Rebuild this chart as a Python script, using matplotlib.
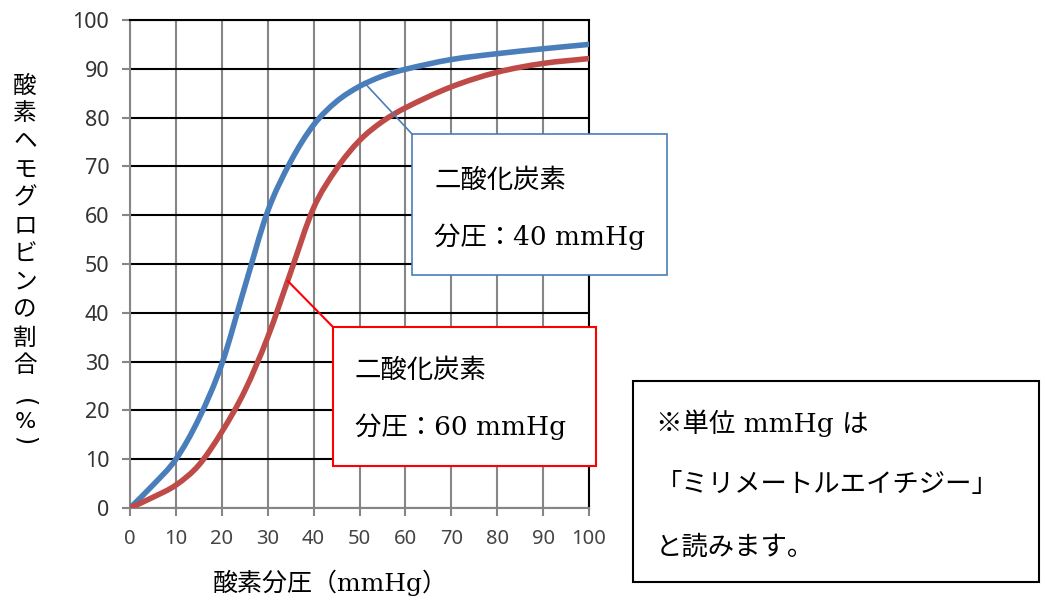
import matplotlib
matplotlib.use('Agg')
import matplotlib.pyplot as plt
from matplotlib.patches import Rectangle, PathPatch
from matplotlib.lines import Line2D
from matplotlib.path import Path

# values
pressure = [0, 5, 10, 15, 20, 25, 30, 35, 40, 45, 50, 55, 60, 70, 80, 90, 100]
sat_co2_40 = [0, 4.7, 10, 18.3, 29.5, 45.3, 60.8, 71, 78.5, 83.3, 86.4, 88.5, 89.9, 91.9, 93.1, 94.1, 95]
sat_co2_60 = [0, 2.2, 4.7, 8.8, 15.6, 24, 35, 48.3, 61.5, 69.5, 75.3, 79.2, 82, 86.3, 89.3, 91.1, 92.1]
ticks = list(range(0, 101, 10))

label_blue = ['二酸化炭素', '分圧：40 mmHg']
label_red = ['二酸化炭素', '分圧：60 mmHg']
note_lines = ['※単位 mmHg は', '「ミリメートルエイチジー」', 'と読みます。']
ylabel_chars = list('酸素ヘモグロビンの割合')
xlabel = '酸素分圧（mmHg）'

W, H = 1045, 600
def fx(px):
    return px / W
def fy(py):
    return 1 - py / H

serif = ['DejaVu Serif', 'Noto Sans CJK JP']
cjk = ['Noto Sans CJK JP', 'DejaVu Sans']


def smooth_line(xs, ys):
    # smoothed line like the spreadsheet's: cubic Hermite segments as a bezier path
    n = len(xs)
    slopes = []
    for i in range(n):
        a, b = max(i - 1, 0), min(i + 1, n - 1)
        slopes.append((ys[b] - ys[a]) / (xs[b] - xs[a]))
    verts = [(xs[0], ys[0])]
    codes = [Path.MOVETO]
    for i in range(n - 1):
        h = xs[i + 1] - xs[i]
        verts += [(xs[i] + h / 3, ys[i] + slopes[i] * h / 3),
                  (xs[i + 1] - h / 3, ys[i + 1] - slopes[i + 1] * h / 3),
                  (xs[i + 1], ys[i + 1])]
        codes += [Path.CURVE4] * 3
    return Path(verts, codes)


fig = plt.figure(figsize=(10.45, 6.0), dpi=100)
ax = fig.add_axes([fx(130), fy(508), (589 - 130) / W, (508 - 20) / H])

ax.add_patch(PathPatch(smooth_line(pressure, sat_co2_40), facecolor='none',
                       edgecolor='#4a7ebb', lw=4, zorder=3, capstyle='round'))
ax.add_patch(PathPatch(smooth_line(pressure, sat_co2_60), facecolor='none',
                       edgecolor='#be4b48', lw=4, zorder=3, capstyle='round'))

ax.set_xlim(0, 100)
ax.set_ylim(0, 100)
ax.set_xticks(ticks)
ax.set_yticks(ticks)
ax.grid(axis='y', color='black', lw=1.5)
ax.grid(axis='x', color='#868686', lw=1.5)
ax.set_axisbelow(True)
for s in ['top', 'right']:
    ax.spines[s].set_color('black')
    ax.spines[s].set_linewidth(1.5)
for s in ['left', 'bottom']:
    ax.spines[s].set_color('#868686')
    ax.spines[s].set_linewidth(1.5)
ax.tick_params(length=6, width=1.5, color='#868686', pad=9)
ax.tick_params(axis='y', labelsize=15.5, labelcolor='#333333')
ax.tick_params(axis='x', labelsize=14.5, labelcolor='#444444')
for lab in ax.get_xticklabels() + ax.get_yticklabels():
    lab.set_family('Noto Sans')

# axis titles
fig.text(fx(330), fy(583), xlabel, family=serif, fontsize=18, ha='center', va='center')
for i, ch in enumerate(ylabel_chars):
    fig.text(fx(25), fy(86 + 28 * i), ch, family=cjk, fontsize=17, ha='center', va='center')
fig.text(fx(25), fy(403), '(', family='DejaVu Sans', fontsize=17, ha='center', va='center',
         rotation=-90, rotation_mode='anchor')
fig.text(fx(25), fy(422), '%', family='DejaVu Sans', fontsize=16, ha='center', va='center')
fig.text(fx(25), fy(441), ')', family='DejaVu Sans', fontsize=17, ha='center', va='center',
         rotation=-90, rotation_mode='anchor')


def to_fig(x, y):
    p = ax.transData.transform((x, y))
    return fig.transFigure.inverted().transform(p)

# callout: blue
p0 = to_fig(51.2, 87)
fig.add_artist(Line2D([p0[0], fx(412)], [p0[1], fy(134)], color='#4a7ebb', lw=1.2, zorder=2))
fig.add_artist(Rectangle((fx(412), fy(275)), (667 - 412) / W, (275 - 134) / H,
                         facecolor='white', edgecolor='#4a7ebb', lw=1.2, zorder=2))
fig.text(fx(434), fy(180), label_blue[0], family=serif, fontsize=19, ha='left', va='center', zorder=3)
fig.text(fx(434), fy(237), label_blue[1], family=serif, fontsize=19, ha='left', va='center', zorder=3)

# callout: red
p1 = to_fig(34.4, 46.5)
fig.add_artist(Line2D([p1[0], fx(333)], [p1[1], fy(327)], color='red', lw=1.5, zorder=2))
fig.add_artist(Rectangle((fx(333), fy(466)), (596 - 333) / W, (466 - 327) / H,
                         facecolor='white', edgecolor='red', lw=1.5, zorder=2))
fig.text(fx(355), fy(370), label_red[0], family=serif, fontsize=19, ha='left', va='center', zorder=3)
fig.text(fx(355), fy(427), label_red[1], family=serif, fontsize=19, ha='left', va='center', zorder=3)

# note box
fig.add_artist(Rectangle((fx(633), fy(582)), (1039 - 633) / W, (582 - 381) / H,
                         facecolor='white', edgecolor='black', lw=1.5, zorder=2))
for i, t in enumerate(note_lines):
    fig.text(fx(656), fy(423 + 62 * i), t, family=serif, fontsize=19, ha='left', va='center', zorder=3)

fig.savefig('out.png', dpi=100)
